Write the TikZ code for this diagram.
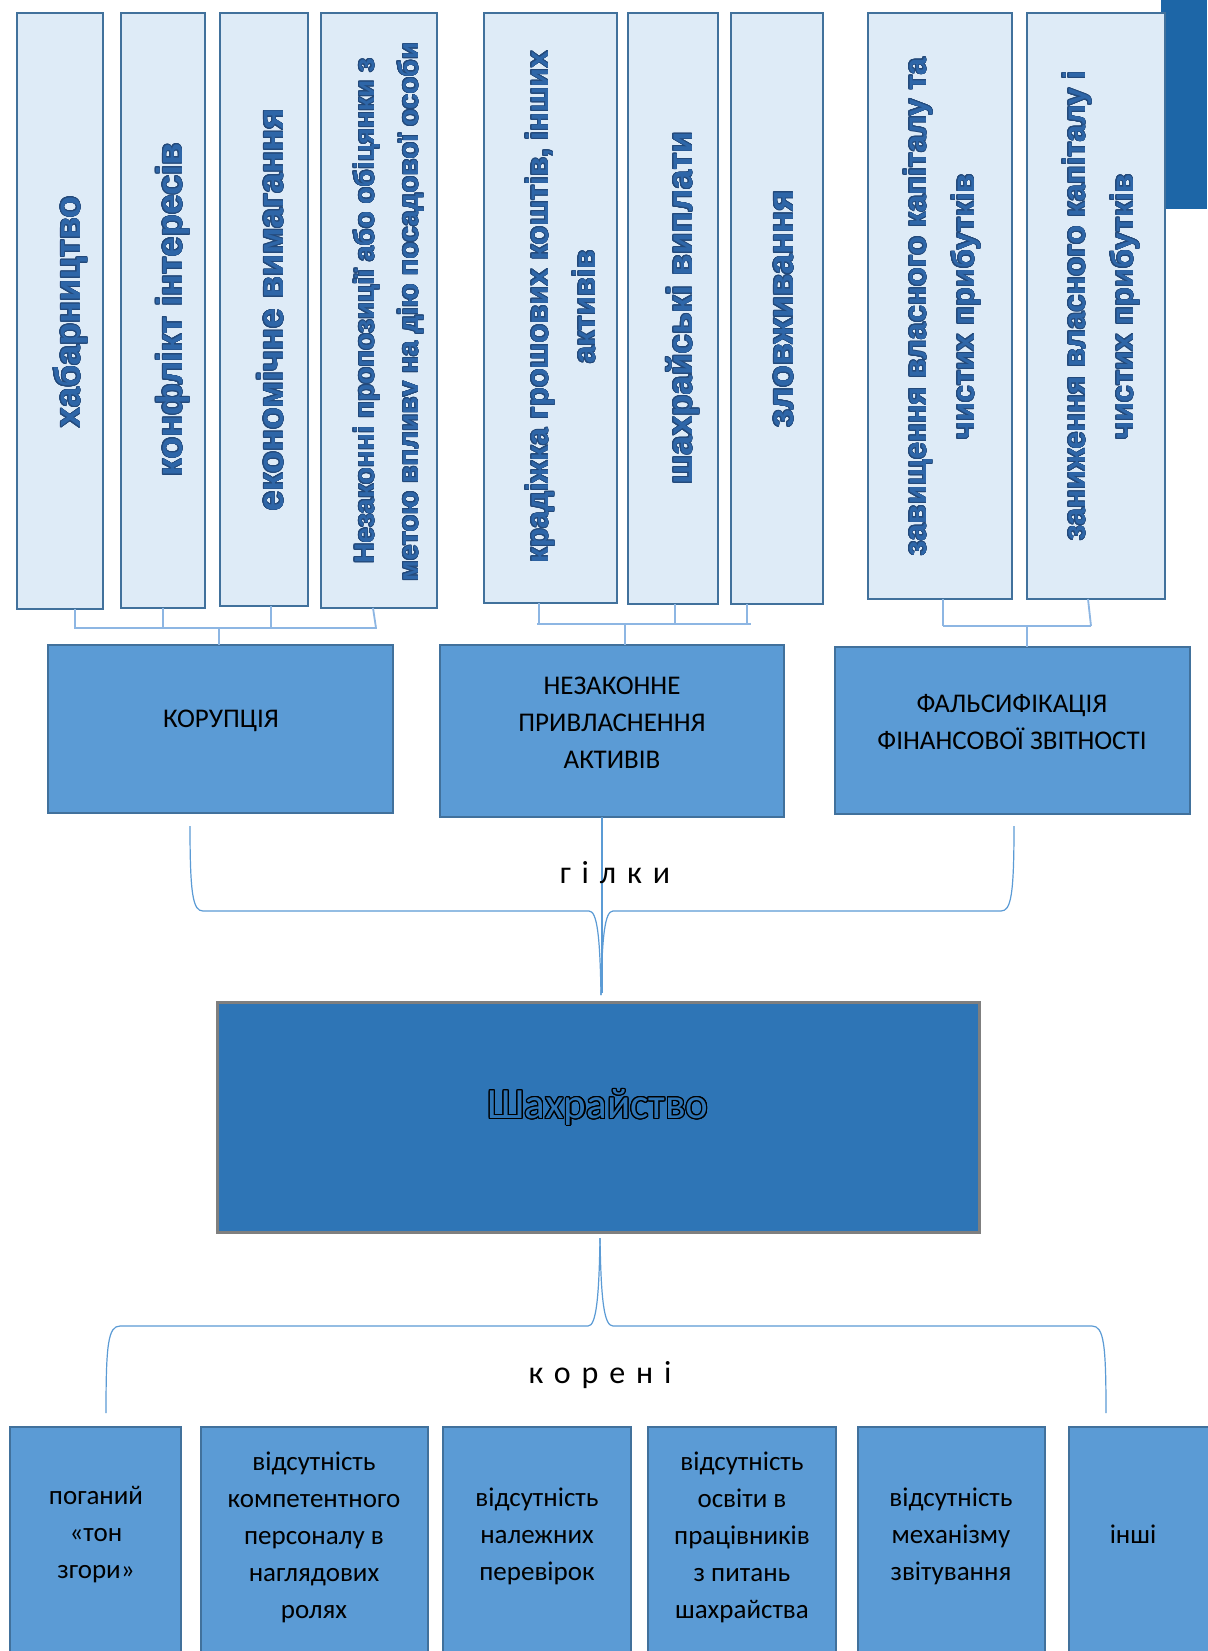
\documentclass[tikz,border=0pt]{standalone}
\usepackage{fontspec}
\setmainfont{Carlito}
\newfontfamily\topfont{Liberation Sans}
\newfontfamily\spacedfont[LetterSpace=34]{Carlito}
\usepackage{contour}
\contourlength{0.7pt}
\contournumber{20}
\usetikzlibrary{calc}
\definecolor{topfill}{HTML}{DEEBF7}
\definecolor{topborder}{HTML}{41719C}
\definecolor{midfill}{HTML}{5B9BD5}
\definecolor{midborder}{HTML}{41719C}
\definecolor{mainfill}{HTML}{2E75B6}
\definecolor{mainborder}{HTML}{7F7F7F}
\definecolor{cornerfill}{HTML}{1D66A7}
\definecolor{toptext}{HTML}{2E66A8}
\definecolor{topline}{HTML}{23497A}
\definecolor{conncol}{HTML}{8DB6E3}
\definecolor{bracecol}{HTML}{5B9BD5}
\newcommand\mkbox[6]{\node[#6, minimum width={(#4-#2)*1pt}, minimum height={(#5-#3)*1pt}] (#1) at ({(#2+#4)/2},{(#3+#5)/2}) {};}
\newcommand\ctxt[1]{\contour{topline}{\color{toptext}#1}}
\tikzset{
  anybox/.style={rectangle, inner sep=0pt, outer sep=0pt},
  topbox/.style={anybox, draw=topborder, fill=topfill, line width=2.5pt},
  midbox/.style={anybox, draw=midborder, fill=midfill, line width=2.5pt},
  mainbox/.style={anybox, draw=mainborder, fill=mainfill, line width=3pt},
  vtext/.style={rotate=90, anchor=base, inner sep=0pt},
  vbig/.style={vtext, font=\topfont\bfseries\fontsize{36}{40}\selectfont},
  vmid/.style={vtext, font=\topfont\bfseries\fontsize{31}{40}\selectfont},
  vsmall/.style={vtext, font=\topfont\bfseries\fontsize{28}{40}\selectfont},
  btxt/.style={align=center, inner sep=0pt, font=\fontsize{27}{37}\selectfont},
  conn/.style={draw=conncol, line width=1.8pt},
  bracel/.style={draw=bracecol, line width=1.2pt},
  spaced/.style={anchor=base, inner sep=0pt, font=\spacedfont\fontsize{32}{32}\selectfont}
}
\begin{document}
\begin{tikzpicture}[x=1pt,y=-1pt]
\useasboundingbox (0,0) rectangle (1207,1651);
\fill[white] (0,0) rectangle (1207,1651);

% top-right corner block
\mkbox{cornerbox}{1161}{0}{1207}{209}{anybox, fill=cornerfill}

% top boxes
\mkbox{b1}{17}{13}{103}{609}{topbox}
\mkbox{b2}{121}{13}{205}{608}{topbox}
\mkbox{b3}{220}{13}{308}{606}{topbox}
\mkbox{b4}{321}{13}{437}{608}{topbox}
\mkbox{b5}{484}{13}{617}{603}{topbox}
\mkbox{b6}{628}{13}{718}{604}{topbox}
\mkbox{b7}{731}{13}{823}{604}{topbox}
\mkbox{b8}{868}{13}{1012}{599}{topbox}
\mkbox{b9}{1027}{13}{1165}{599}{topbox}

% vertical texts
\node[vbig] (tx1) at (80,312) {\ctxt{хабарництво}};
\node[vbig] (tx2) at (182,310) {\ctxt{конфлікт інтересів}};
\node[vbig] (tx3) at (283,310) {\ctxt{економічне вимагання}};
\node[vsmall] (tx4a) at (374,311) {\ctxt{Незаконні пропозиції або обіцянки з}};
\node[vsmall] (tx4b) at (418,312) {\ctxt{метою впливv на дію посадової особи}};
\node[vmid] (tx5a) at (548,307) {\ctxt{крадіжка грошових коштів, інших}};
\node[vmid] (tx5b) at (595,307) {\ctxt{активів}};
\node[vbig, font=\topfont\bfseries\fontsize{35}{40}\selectfont] (tx6) at (692,308) {\ctxt{шахрайські виплати}};
\node[vbig] (tx7) at (793,309) {\ctxt{зловживання}};
\node[vmid] (tx8a) at (926,307) {\ctxt{завищення власного капіталу та}};
\node[vmid] (tx8b) at (974,307) {\ctxt{чистих прибутків}};
\node[vmid] (tx9a) at (1085,306) {\ctxt{заниження власного капіталу і}};
\node[vmid] (tx9b) at (1133,307) {\ctxt{чистих прибутків}};

% middle boxes
\mkbox{m1}{48}{645}{393}{813}{midbox}
\mkbox{m2}{440}{645}{784}{817}{midbox}
\mkbox{m3}{835}{647}{1190}{814}{midbox}
\node[btxt] (mt1) at (221,721) {КОРУПЦІЯ};
\node[btxt] (mt2) at (612,723) {НЕЗАКОННЕ\\ПРИВЛАСНЕННЯ\\АКТИВІВ};
\node[btxt] (mt3) at (1012,722) {ФАЛЬСИФІКАЦІЯ\\ФІНАНСОВОЇ ЗВІТНОСТІ};

% bracket group 1
\coordinate (k11) at (75,628);
\coordinate (k12) at (163,628);
\coordinate (k13) at (271,628);
\coordinate (k14) at (376,628);
\coordinate (k1m) at (219,628);
\draw[conn] (b1.south -| k11) -- (k11);
\draw[conn] (b2.south -| k12) -- (k12);
\draw[conn] (b3.south -| k13) -- (k13);
\draw[conn] ($(b4.south -| k14)+(-3,0)$) -- (k14);
\draw[conn] ($(k11)+(-1,0)$) -- ($(k14)+(1,0)$);
\draw[conn] (k1m) -- (k1m |- m1.north);

% bracket group 2
\coordinate (k21) at (539,624);
\coordinate (k22) at (675,624);
\coordinate (k23) at (747,624);
\coordinate (k2m) at (625,624);
\draw[conn] (b5.south -| k21) -- (k21);
\draw[conn] (b6.south -| k22) -- (k22);
\draw[conn] (b7.south -| k23) -- (k23);
\draw[conn] ($(k21)+(-2,0)$) -- ($(k23)+(4,0)$);
\draw[conn] (k2m) -- (k2m |- m2.north);

% bracket group 3
\coordinate (k31) at (943,626);
\coordinate (k32) at (1091,626);
\coordinate (k3m) at (1027,626);
\draw[conn] (b8.south -| k31) -- (k31);
\draw[conn] ($(b9.south -| k32)+(-3,0)$) -- (k32);
\draw[conn] (k31) -- (k32);
\draw[conn] (k3m) -- (k3m |- m3.north);

% brace "гілки"
\coordinate (gl) at (190,826);
\coordinate (gr) at (1014,826);
\coordinate (gtip) at (601,995);
\coordinate (gv) at (602,993);
\draw[bracel] (gl) .. controls (190,895) and (193,911) .. (203,911) -- (589,911) .. controls (597,911) and (600,935) .. (gtip);
\draw[bracel] (gr) .. controls (1014,895) and (1011,911) .. (1001,911) -- (613,911) .. controls (605,911) and (602,935) .. (gtip);
\draw[bracel] (m2.south -| gv) -- (gv);
\node[spaced] (gilky) at (615,883) {гілки};

% main box
\mkbox{main}{217}{1002}{979}{1232}{mainbox}
\contourlength{1.1pt}
\node[inner sep=0pt, font=\fontsize{43}{43}\selectfont] (maintxt) at (598,1108) {\contour{black}{\color{mainfill}Шахрайство}};

% brace "корені"
\coordinate (ktip) at (600,1238);
\coordinate (kl) at (106,1413);
\coordinate (kr) at (1106,1413);
\draw[bracel] (kl) .. controls (106,1345) and (108,1326) .. (120,1326) -- (588,1326) .. controls (596,1326) and (599,1300) .. (ktip);
\draw[bracel] (kr) .. controls (1106,1345) and (1104,1326) .. (1092,1326) -- (613,1326) .. controls (604,1326) and (601,1300) .. (ktip);
\node[spaced] (koreni) at (600,1383) {корені};

% bottom boxes
\mkbox{r1}{10}{1427}{181}{1665}{midbox}
\mkbox{r2}{201}{1427}{428}{1665}{midbox}
\mkbox{r3}{443}{1427}{631}{1665}{midbox}
\mkbox{r4}{648}{1427}{836}{1665}{midbox}
\mkbox{r5}{858}{1427}{1045}{1665}{midbox}
\mkbox{r6}{1069}{1427}{1215}{1665}{midbox}
\node[btxt] (rt1) at (96,1535) {поганий\\«тон\\згори»};
\node[btxt] (rt2) at (314,1537) {відсутність\\компетентного\\персоналу в\\наглядових\\ролях};
\node[btxt] (rt3) at (537,1536) {відсутність\\належних\\перевірок};
\node[btxt] (rt4) at (742,1537) {відсутність\\освіти в\\працівників\\з питань\\шахрайства};
\node[btxt] (rt5) at (951,1536) {відсутність\\механізму\\звітування};
\node[btxt] (rt6) at (1133,1534) {інші};
\end{tikzpicture}
\end{document}
